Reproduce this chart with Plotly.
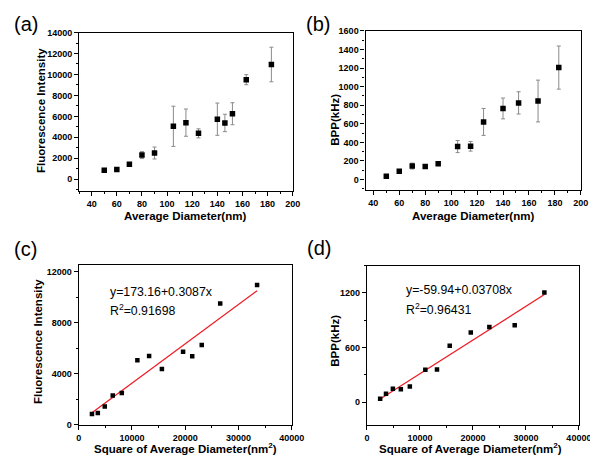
import plotly.graph_objects as go

# ---- data ----
diam_a = [50, 60, 70, 80, 90, 105, 115, 125, 140, 146, 152, 163, 183]
fluor = [850, 920, 1430, 2300, 2500, 5050, 5400, 4380, 5730, 5370, 6250, 9500, 10950]
fluor_err = [120, 100, 100, 330, 570, 1920, 1300, 430, 1540, 830, 1050, 480, 1650]

diam_b = [50, 60, 70, 80, 90, 105, 115, 125, 140, 152, 167, 183]
bpp = [35, 90, 145, 140, 170, 355, 358, 620, 765, 825, 845, 1205]
bpp_err = [10, 10, 32, 15, 20, 65, 52, 145, 112, 120, 225, 232]

sq_c = [2500, 3600, 4900, 6400, 8100, 11025, 13225, 15625, 19600, 21316, 23104, 26569, 33489]
sq_d = [2500, 3600, 4900, 6400, 8100, 11025, 13225, 15625, 19600, 23104, 27889, 33489]

fit_c = (173.16, 0.3087)
fit_d = (-59.94, 0.03708)
fit_c_text = ["y=173.16+0.3087x", "R<sup>2</sup>=0.91698"]
fit_d_text = ["y=-59.94+0.03708x", "R<sup>2</sup>=0.96431"]

panel_labels = ["(a)", "(b)", "(c)", "(d)"]
xtitle_top = "Average Diameter(nm)"
xtitle_bot = "Square of Average Diameter(nm<sup>2</sup>)"
ytitle_f = "Fluorescence Intensity"
ytitle_b = "BPP(kHz)"

W, H = 598, 456
FONT = "Arial, Liberation Sans, sans-serif"
ERR_COLOR = "#8a8a8a"
FIT_COLOR = "#ee1c25"


def px(x):
    return x / W


def py(y):
    return 1 - y / H


fig = go.Figure()

fig.add_trace(go.Scatter(
    x=diam_a, y=fluor, mode="markers", xaxis="x", yaxis="y",
    marker=dict(symbol="square", size=5.5, color="black"),
    error_y=dict(type="data", array=fluor_err, color=ERR_COLOR, thickness=1, width=2),
    showlegend=False))

fig.add_trace(go.Scatter(
    x=diam_b, y=bpp, mode="markers", xaxis="x2", yaxis="y2",
    marker=dict(symbol="square", size=5.5, color="black"),
    error_y=dict(type="data", array=bpp_err, color=ERR_COLOR, thickness=1, width=2),
    showlegend=False))

xc = [sq_c[0], sq_c[-1]]
fig.add_trace(go.Scatter(
    x=xc, y=[fit_c[0] + fit_c[1] * v for v in xc], mode="lines", xaxis="x3", yaxis="y3",
    line=dict(color=FIT_COLOR, width=1.3), showlegend=False))
fig.add_trace(go.Scatter(
    x=sq_c, y=fluor, mode="markers", xaxis="x3", yaxis="y3",
    marker=dict(symbol="square", size=4.5, color="black"), showlegend=False))

xd = [sq_d[0], sq_d[-1]]
fig.add_trace(go.Scatter(
    x=xd, y=[fit_d[0] + fit_d[1] * v for v in xd], mode="lines", xaxis="x4", yaxis="y4",
    line=dict(color=FIT_COLOR, width=1.3), showlegend=False))
fig.add_trace(go.Scatter(
    x=sq_d, y=bpp, mode="markers", xaxis="x4", yaxis="y4",
    marker=dict(symbol="square", size=4.5, color="black"), showlegend=False))


def ax(domain, rng, dtick, minor, anchor, tick0=0):
    return dict(domain=domain, range=rng, dtick=dtick, tick0=tick0, anchor=anchor,
                showline=True, linecolor="black", linewidth=1.2, mirror=True,
                ticks="outside", ticklen=4, tickwidth=1, tickcolor="black",
                minor=dict(ticks="outside", ticklen=2, dtick=minor, tickcolor="black", tickwidth=1),
                showgrid=False, zeroline=False,
                exponentformat="none", separatethousands=False, tickformat="d",
                tickfont=dict(family=FONT, size=9, color="black", weight="bold"))


fig.update_layout(
    width=W, height=H, margin=dict(l=0, r=0, t=0, b=0),
    paper_bgcolor="white", plot_bgcolor="white",
    xaxis=ax([px(70), px(289.5)], [30, 200], 20, 10, "y"),
    yaxis=ax([py(181.7), py(20)], [-1100, 14000], 2000, 1000, "x"),
    xaxis2=ax([px(364.3), px(585.5)], [34, 200], 20, 10, "y2"),
    yaxis2=ax([py(180.7), py(18.3)], [-110, 1600], 200, 100, "x2"),
    xaxis3=ax([px(69.5), px(288.5)], [0, 40000], 10000, 5000, "y3"),
    yaxis3=ax([py(421), py(258)], [0, 12500], 4000, 2000, "x3"),
    xaxis4=ax([px(365.7), px(583.5)], [0, 40000], 10000, 5000, "y4"),
    yaxis4=ax([py(421), py(258.3)], [-250, 1500], 600, 300, "x4"),
)

ann = []
# panel labels
for lab, (x, y) in zip(panel_labels, [(1, 11), (301, 11), (1, 241), (302, 240)]):
    ann.append(dict(text=lab, x=px(x), y=py(y), xref="paper", yref="paper",
                    xanchor="left", yanchor="middle", showarrow=False,
                    font=dict(family=FONT, size=20, color="black")))
# axis titles
tf = dict(family=FONT, size=11.5, color="black", weight="bold")
for txt, (x, y) in [(xtitle_top, (179, 208)), (xtitle_top, (475, 208)),
                    (xtitle_bot, (179, 445)), (xtitle_bot, (472, 445))]:
    ann.append(dict(text=txt, x=px(x), y=py(y), xref="paper", yref="paper",
                    xanchor="center", yanchor="middle", showarrow=False, font=tf))
for txt, (x, y) in [(ytitle_f, (31, 100)), (ytitle_b, (332, 109)),
                    (ytitle_f, (27, 336)), (ytitle_b, (333, 335))]:
    ann.append(dict(text=txt, x=px(x), y=py(y), xref="paper", yref="paper",
                    xanchor="center", yanchor="middle", showarrow=False, font=tf,
                    textangle=-90))
# fit equations
ef = dict(family=FONT, size=12.3, color="black")
for lines, x0, ys in [(fit_c_text, 100, (285, 304)), (fit_d_text, 404, (283, 303))]:
    for t, y in zip(lines, ys):
        ann.append(dict(text=t, x=px(x0), y=py(y), xref="paper", yref="paper",
                        xanchor="left", yanchor="middle", showarrow=False, font=ef))

fig.update_layout(annotations=ann)
fig.write_html("out.html")
